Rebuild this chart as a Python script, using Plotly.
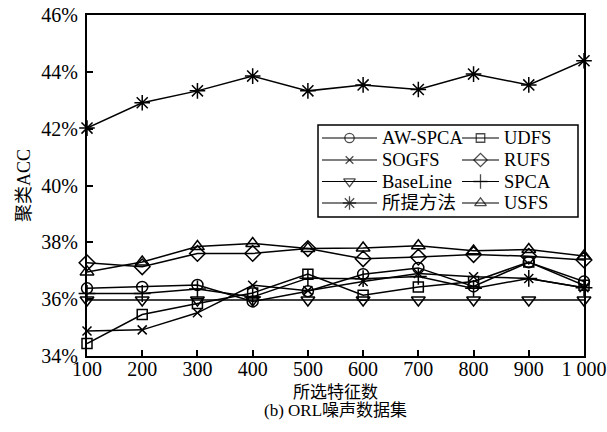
import plotly.graph_objects as go

# Number of selected features
features = [100, 200, 300, 400, 500, 600, 700, 800, 900, 1000]
feature_labels = ["100", "200", "300", "400", "500", "600", "700", "800", "900", "1 000"]

# Clustering accuracy (%) per method
aw_spca = [36.38, 36.43, 36.50, 35.92, 36.28, 36.88, 37.10, 36.45, 37.30, 36.62]
udfs = [34.44, 35.46, 35.85, 36.22, 36.88, 36.14, 36.43, 36.62, 37.31, 36.49]
sogfs = [34.88, 34.92, 35.52, 36.49, 36.30, 36.62, 36.90, 36.79, 36.73, 36.40]
rufs = [37.28, 37.14, 37.61, 37.61, 37.78, 37.42, 37.48, 37.57, 37.51, 37.38]
baseline = [35.97, 35.97, 35.97, 35.97, 35.97, 35.97, 35.97, 35.97, 35.97, 35.97]
spca = [36.20, 36.20, 36.36, 36.08, 36.74, 36.72, 36.80, 36.38, 36.73, 36.40]
proposed = [42.02, 42.91, 43.33, 43.85, 43.33, 43.54, 43.38, 43.92, 43.54, 44.39]
usfs = [36.96, 37.31, 37.85, 37.96, 37.78, 37.80, 37.88, 37.70, 37.75, 37.52]

y_ticks = [34, 36, 38, 40, 42, 44, 46]
y_tick_labels = ["34%", "36%", "38%", "40%", "42%", "44%", "46%"]

FONT = "Liberation Serif, Noto Sans CJK SC, serif"
W, H = 607, 432
M_L, M_R, M_T, M_B = 87, 23, 15, 76

# name, values, marker symbol, marker size, legend column, legend row
series = [
    ("AW-SPCA", aw_spca, "circle-open", 11, 0, 0),
    ("UDFS", udfs, "square-open", 10, 1, 0),
    ("SOGFS", sogfs, "x-thin-open", 9, 0, 1),
    ("RUFS", rufs, "diamond-open", 12, 1, 1),
    ("BaseLine", baseline, "triangle-down-open", 12, 0, 2),
    ("SPCA", spca, "cross-thin-open", 12, 1, 2),
    ("所提方法", proposed, "asterisk-open", 13, 0, 3),
    ("USFS", usfs, "triangle-up-open", 12, 1, 3),
]

fig = go.Figure()
for name, vals, sym, size, _, _ in series:
    fig.add_trace(go.Scatter(
        x=features, y=vals, name=name, mode="lines+markers",
        line=dict(color="black", width=1.5),
        marker=dict(symbol=sym, size=size, color="black",
                    line=dict(color="black", width=1.5)),
        cliponaxis=False, showlegend=False,
    ))

# Legend drawn on an overlay axis measured in page pixels
col_line = [(322, 377), (462, 499)]
col_text = [380, 502]
row_y = [138, 160, 181.5, 203]
legend_notes = []
for name, _, sym, size, col, row in series:
    x0, x1 = col_line[col]
    y = row_y[row]
    fig.add_trace(go.Scatter(
        x=[x0, (x0 + x1) / 2, x1], y=[y, y, y], mode="lines+markers",
        line=dict(color="black", width=1.2),
        marker=dict(symbol=sym, size=[0, size * 0.85, 0], color="black",
                    line=dict(color="black", width=1.3)),
        xaxis="x2", yaxis="y2", showlegend=False, hoverinfo="skip",
        cliponaxis=False,
    ))
    legend_notes.append(dict(
        text=name, xref="x2", yref="y2", x=col_text[col], y=y,
        xanchor="left", yanchor="middle", showarrow=False,
        font=dict(family=FONT, size=18.5, color="black"),
    ))

axis_style = dict(
    ticks="inside", ticklen=6, tickwidth=1.5, tickcolor="black",
    showline=True, linecolor="black", linewidth=2, mirror=True,
    showgrid=False, zeroline=False, automargin=False,
    tickfont=dict(family=FONT, size=20, color="black"),
)

fig.update_layout(
    width=W, height=H,
    margin=dict(l=M_L, r=M_R, t=M_T, b=M_B),
    plot_bgcolor="white", paper_bgcolor="white",
    font=dict(family=FONT, size=17, color="black"),
    showlegend=False,
    xaxis=dict(range=[100, 1000], tickvals=features, ticktext=feature_labels,
               ticklabelstandoff=-6, **axis_style),
    yaxis=dict(range=[34, 46], tickvals=y_ticks, ticktext=y_tick_labels,
               ticklabelstandoff=3, **axis_style),
    xaxis2=dict(overlaying="x", range=[M_L, W - M_R], visible=False),
    yaxis2=dict(overlaying="y", range=[H - M_B, M_T], visible=False),
    shapes=[dict(
        type="rect", xref="x2", yref="y2",
        x0=318, x1=578, y0=125, y1=217,
        line=dict(color="black", width=1.5), fillcolor="rgba(0,0,0,0)",
    )],
    annotations=legend_notes + [
        dict(text="聚类ACC", xref="paper", yref="paper", x=-0.152, y=0.5,
             textangle=-90, showarrow=False,
             font=dict(family=FONT, size=18, color="black")),
        dict(text="所选特征数", xref="paper", yref="paper", x=0.5, y=-0.108,
             showarrow=False, yanchor="middle",
             font=dict(family=FONT, size=17, color="black")),
        dict(text="(b) ORL噪声数据集", xref="paper", yref="paper", x=0.5, y=-0.16,
             showarrow=False, yanchor="middle",
             font=dict(family=FONT, size=17, color="black")),
    ],
)

fig.write_html("out.html")
